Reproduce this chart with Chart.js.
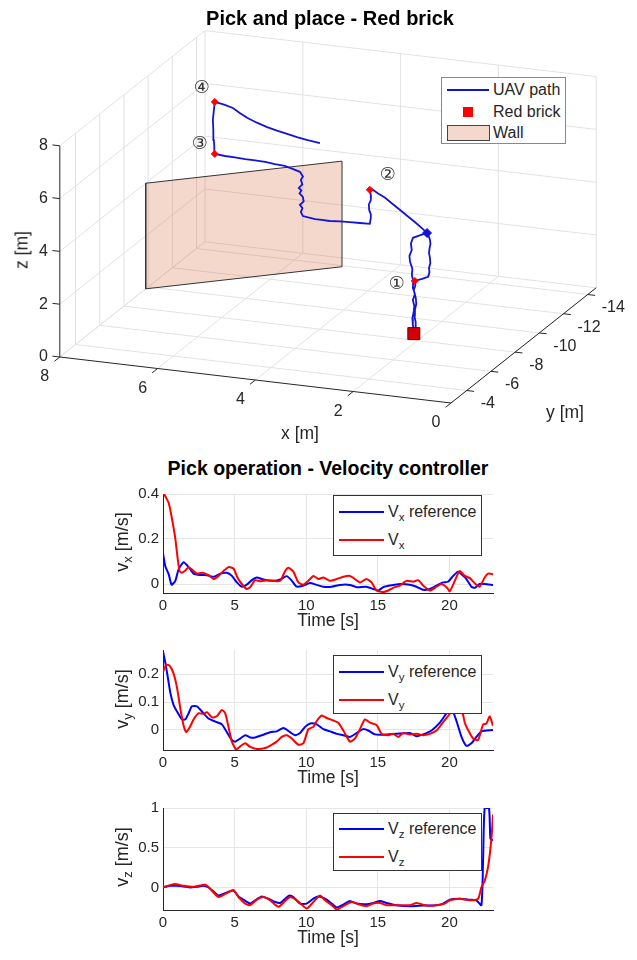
<!DOCTYPE html>
<html>
<head>
<meta charset="utf-8">
<script src="https://cdn.jsdelivr.net/npm/chart.js@4.4.1/dist/chart.umd.min.js"></script>
<style>
body { margin: 0; background: #fff; font-family: 'Liberation Sans', Arial, Helvetica, sans-serif; color: #262626; }
#fig { position: relative; width: 637px; height: 960px; overflow: hidden; }
.pane { position: absolute; left: 0; width: 637px; }
.lbl { position: absolute; white-space: nowrap; transform: translate(-50%, -50%); font-size: 17.5px; }
.rot { transform: translate(-50%, -50%) rotate(-90deg); }
.ttl { font-weight: bold; font-size: 20px; color: #000; }
.leg { position: absolute; background: #fff; border: 1px solid #333; font-size: 16px; box-sizing: border-box; }
.leg .tx { position: absolute; line-height: 20px; white-space: nowrap; }
.leg .sw { position: absolute; }
sub { font-size: 0.72em; vertical-align: -0.35em; line-height: 0; }
</style>
</head>
<body>
<div id="fig">
  <div class="pane" style="top:0;height:440px"><canvas id="scene"></canvas></div>
  <div class="pane" style="top:481px;height:151px"><canvas id="vx"></canvas></div>
  <div class="pane" style="top:637px;height:152px"><canvas id="vy"></canvas></div>
  <div class="pane" style="top:795px;height:154px"><canvas id="vz"></canvas></div>

  <div class="lbl ttl" style="left:330px;top:18px">Pick and place - Red brick</div>
  <div class="lbl" style="left:300px;top:433px">x [m]</div>
  <div class="lbl" style="left:565px;top:412px">y [m]</div>
  <div class="lbl rot" style="left:22px;top:250px">z [m]</div>

  <div class="leg" style="left:441px;top:77px;width:125px;height:67px;border-color:#888">
    <div class="sw" style="left:5px;top:11px;width:42px;border-top:2px solid rgb(20,20,215)"></div>
    <div class="tx" style="left:51px;top:2px">UAV path</div>
    <div class="sw" style="left:21px;top:29px;width:10px;height:10px;background:#f00"></div>
    <div class="tx" style="left:51px;top:24px">Red brick</div>
    <div class="sw" style="left:5px;top:47px;width:41px;height:14px;background:#f5d8cc;border:1px solid #444"></div>
    <div class="tx" style="left:51px;top:45px">Wall</div>
  </div>

  <div class="lbl ttl" style="left:328px;top:468px;font-size:19.5px">Pick operation - Velocity controller</div>

  <div class="lbl rot" style="left:122px;top:542px;font-size:18px">v<sub>x</sub> [m/s]</div>
  <div class="lbl rot" style="left:122px;top:699px;font-size:18px">v<sub>y</sub> [m/s]</div>
  <div class="lbl rot" style="left:122px;top:857px;font-size:18px">v<sub>z</sub> [m/s]</div>

  <div class="leg" style="left:333px;top:495px;width:149px;height:61px">
    <div class="sw" style="left:5px;top:15px;width:45px;border-top:2px solid #00f"></div>
    <div class="tx" style="left:54px;top:6px">V<sub>x</sub> reference</div>
    <div class="sw" style="left:5px;top:43px;width:45px;border-top:2px solid #f00"></div>
    <div class="tx" style="left:54px;top:34px">V<sub>x</sub></div>
  </div>
  <div class="leg" style="left:333px;top:655px;width:149px;height:59px">
    <div class="sw" style="left:5px;top:15px;width:45px;border-top:2px solid #00f"></div>
    <div class="tx" style="left:54px;top:6px">V<sub>y</sub> reference</div>
    <div class="sw" style="left:5px;top:43px;width:45px;border-top:2px solid #f00"></div>
    <div class="tx" style="left:54px;top:34px">V<sub>y</sub></div>
  </div>
  <div class="leg" style="left:333px;top:813px;width:149px;height:58px">
    <div class="sw" style="left:5px;top:14px;width:45px;border-top:2px solid #00f"></div>
    <div class="tx" style="left:54px;top:5px">V<sub>z</sub> reference</div>
    <div class="sw" style="left:5px;top:42px;width:45px;border-top:2px solid #f00"></div>
    <div class="tx" style="left:54px;top:33px">V<sub>z</sub></div>
  </div>
</div>

<script>
Chart.defaults.font.family = "'Liberation Sans', Arial, Helvetica, sans-serif";

// ---- 3D scene data ----
const xTicks3 = [0, 2, 4, 6, 8];
const yTicks3 = [-14, -12, -10, -8, -6, -4];
const zTicks3 = [0, 2, 4, 6, 8];
const xLim3 = [0, 8];
const yLim3 = [-14.7, -2.7];
const zLim3 = [0, 8];

// UAV path (m)
const pathX = [
  1.95, 2.10, 2.24, 2.28, 2.26, 2.31, 2.30, 2.25, 2.26, 2.23, 2.24, 2.20, 2.24, 2.21, 2.22, 2.25, 2.24, 2.22, 2.22,
  2.19, 2.18, 2.21, 2.20, 2.17, 2.18, 2.22, 2.19, 2.20,
  2.05, 1.93, 1.90, 1.91, 1.88, 1.89, 1.91, 1.90, 1.88, 1.89, 1.93,
  2.05, 2.20, 2.35, 2.50, 2.66, 2.81, 2.95, 3.08, 3.12,
  3.10, 3.10, 3.14, 3.13, 3.10, 3.10, 3.12,
  3.32, 3.53, 3.73, 3.94, 4.10, 4.24, 4.38, 4.49,
  4.53, 4.50, 4.55, 4.47, 4.49, 4.56, 4.52, 4.57, 4.50, 4.53, 4.49, 4.55,
  4.70, 4.86, 5.06, 5.26, 5.47, 5.67, 5.88, 6.08, 6.29,
  6.30, 6.31, 6.32, 6.33, 6.31, 6.29,
  6.10, 5.92, 5.78, 5.63, 5.43, 5.22, 5.02, 4.81, 4.61, 4.41, 4.14
];
const pathY = [
  -8.60, -8.60, -8.61, -8.60, -8.59, -8.60, -8.61, -8.60, -8.60, -8.59, -8.60, -8.61, -8.60, -8.60, -8.59, -8.60, -8.60, -8.61, -8.60,
  -8.60, -8.59, -8.60, -8.61, -8.60, -8.60, -8.59, -8.60, -8.60,
  -8.60, -8.61, -8.60, -8.60, -8.59, -8.60, -8.60, -8.61, -8.60, -8.60, -8.60,
  -8.60, -8.60, -8.59, -8.60, -8.60, -8.61, -8.60, -8.60, -8.60,
  -8.60, -8.61, -8.60, -8.59, -8.60, -8.60, -8.60,
  -8.60, -8.60, -8.61, -8.60, -8.59, -8.60, -8.60, -8.60,
  -8.60, -8.61, -8.60, -8.59, -8.60, -8.61, -8.60, -8.59, -8.60, -8.60, -8.61, -8.60,
  -8.60, -8.60, -8.59, -8.60, -8.61, -8.60, -8.60, -8.59, -8.60,
  -8.60, -8.60, -8.60, -8.60, -8.60, -8.60,
  -8.60, -8.60, -8.60, -8.60, -8.60, -8.60, -8.60, -8.60, -8.60, -8.60, -8.60
];
const pathZ = [
  3.87, 3.75, 3.62, 3.40, 3.16, 2.92, 2.70, 2.45, 2.21, 1.97, 1.73, 1.50, 1.27, 1.05, 0.82, 0.58, 0.32, 0.10, 0.00,
  0.22, 0.45, 0.68, 0.90, 1.13, 1.36, 1.65, 1.82, 2.00,
  2.11, 2.21, 2.40, 2.55, 2.75, 2.94, 3.12, 3.31, 3.47, 3.62, 3.84,
  4.02, 4.23, 4.43, 4.62, 4.82, 5.01, 5.15, 5.29, 5.25,
  5.05, 4.87, 4.68, 4.48, 4.33, 4.19, 3.96,
  3.95, 3.94, 3.92, 3.89, 3.90, 3.90, 3.93, 3.96,
  4.10, 4.25, 4.37, 4.52, 4.68, 4.80, 4.92, 5.01, 5.15, 5.32, 5.45, 5.62,
  5.70, 5.78, 5.80, 5.84, 5.85, 5.86, 5.88, 5.89, 5.92,
  6.20, 6.45, 6.80, 7.20, 7.55, 7.89,
  7.83, 7.74, 7.58, 7.43, 7.29, 7.17, 7.08, 7.00, 6.92, 6.86, 6.80
];

// waypoints 1-4
const wpLabels = ['\u2460', '\u2461', '\u2462', '\u2463'];
const wpX = [2.20, 3.12, 6.29, 6.29];
const wpY = [-8.6, -8.6, -8.6, -8.6];
const wpZ = [2.00, 5.25, 5.92, 7.89];

const startPos = [1.95, -8.6, 3.87];
const brickPos = [2.22, -8.6, 0];

// wall: two ground corners and height range
const wallX = [8, 5.0];
const wallY = [-9.8, -13.9];
const wallZ = [0, 4];

// ---- velocity data ----
const timeTicks = [0, 5, 10, 15, 20];

const tVxRef = [0, 0.16, 0.4, 0.6, 0.86, 1.09, 1.44, 1.79, 2.14, 2.6, 3.07, 3.53, 4.0, 4.46, 4.81, 5.16, 5.5, 5.85, 6.2, 6.55,
  6.9, 7.25, 7.71, 8.18, 8.64, 9.0, 9.34, 9.8, 10.27, 10.73, 11.2, 11.78, 12.36, 13.05, 13.52, 14.2, 14.68, 15.03, 15.38, 15.84,
  16.54, 17.24, 17.7, 18.16, 18.63, 19.1, 19.56, 19.9, 20.26, 20.6, 20.84, 21.18, 21.53, 21.77, 22.1, 22.46, 23.04];
const vxRef = [0.137, 0.079, 0.043, -0.003, 0.014, 0.065, 0.097, 0.075, 0.046, 0.040, 0.039, 0.032, 0.046, 0.050, 0.036, 0.007, -0.012, -0.003, 0.017, 0.029,
  0.022, 0.017, 0.014, 0.020, 0.035, 0.014, -0.012, -0.007, 0.004, -0.004, -0.012, -0.012, -0.004, -0.004, -0.014, -0.012, -0.022, -0.029, -0.014, -0.007,
  0, -0.003, -0.012, -0.026, -0.022, -0.007, 0.007, 0.010, 0.036, 0.055, 0.043, 0.022, -0.012, -0.017, 0, 0, -0.004];
const tVx = [0, 0.16, 0.4, 0.63, 0.86, 1.02, 1.16, 1.32, 1.56, 1.79, 2.0, 2.37, 2.72, 3.18, 3.53, 3.88, 4.23, 4.58, 4.92, 5.2,
  5.5, 5.85, 6.09, 6.43, 6.78, 7.25, 7.71, 8.18, 8.53, 8.76, 9.1, 9.45, 9.8, 10.15, 10.5, 10.85, 11.2, 11.66, 12.13, 12.59,
  13.05, 13.4, 13.75, 14.2, 14.56, 14.91, 15.38, 15.73, 16.07, 16.54, 17.0, 17.47, 17.82, 18.16, 18.63, 19.1, 19.44, 19.8, 20.02, 20.37,
  20.72, 21.07, 21.42, 21.77, 22.1, 22.46, 22.7, 23.04];
const vx = [0.41, 0.39, 0.36, 0.289, 0.202, 0.115, 0.058, 0.05, 0.06, 0.075, 0.065, 0.046, 0.05, 0.039, 0.022, 0.036, 0.058, 0.075, 0.069, 0.029,
  0, -0.022, -0.014, 0.017, 0.012, 0.017, 0.014, 0.014, 0.058, 0.072, 0.055, 0.007, -0.003, 0.014, 0.036, 0.022, 0.029, 0.014, 0.022, 0.032,
  0.036, 0.022, 0.007, 0.022, 0.007, -0.029, -0.036, -0.029, -0.017, -0.007, 0.014, 0.01, 0.017, -0.007, -0.029, -0.012, 0, -0.014, -0.032, 0.014,
  0.058, 0.036, 0.026, 0.003, -0.012, 0.029, 0.046, 0.043];

const tVyRef = [0, 0.16, 0.33, 0.51, 0.74, 0.98, 1.32, 1.56, 1.79, 2.02, 2.37, 2.72, 3.18, 3.65, 4.11, 4.46, 4.81, 5.04, 5.39, 5.74,
  6.09, 6.43, 6.9, 7.48, 7.94, 8.41, 8.87, 9.22, 9.57, 9.92, 10.27, 10.73, 11.2, 11.66, 12.13, 12.59, 13.05, 13.52, 13.98, 14.33,
  14.8, 15.38, 16.3, 17.24, 17.7, 18.16, 18.75, 19.33, 19.8, 20.14, 20.49, 20.84, 21.18, 21.53, 21.88, 22.23, 23.04];
const vyRef = [0.282, 0.242, 0.191, 0.134, 0.089, 0.066, 0.038, 0.038, 0.060, 0.085, 0.085, 0.066, 0.041, 0.030, 0.020, -0.008, -0.036, -0.042, -0.031, -0.019,
  -0.027, -0.027, -0.019, -0.008, -0.005, 0.007, -0.008, -0.019, -0.011, 0.011, 0.023, 0.020, 0.003, -0.005, -0.014, -0.019, -0.025, -0.011, 0.003, -0.002,
  -0.016, -0.017, -0.014, -0.011, -0.023, -0.016, -0.002, 0.026, 0.060, 0.077, 0.032, -0.025, -0.057, -0.048, -0.025, -0.005, 0.0];
const tVy = [0, 0.23, 0.46, 0.74, 0.98, 1.21, 1.44, 1.63, 1.86, 2.14, 2.49, 2.83, 3.07, 3.41, 3.76, 4.11, 4.34, 4.58, 4.81, 5.11,
  5.39, 5.74, 6.09, 6.55, 7.13, 7.6, 7.94, 8.29, 8.64, 8.99, 9.45, 9.8, 10.15, 10.5, 10.73, 11.08, 11.43, 11.89, 12.24, 12.59,
  13.05, 13.4, 13.75, 14.1, 14.45, 14.91, 15.26, 15.73, 16.07, 16.42, 16.77, 17.24, 17.7, 18.16, 18.63, 19.1, 19.44, 19.8, 20.14, 20.49,
  20.84, 21.07, 21.3, 21.65, 22.0, 22.35, 22.58, 22.81, 23.04];
const vy = [0.208, 0.234, 0.231, 0.202, 0.151, 0.077, 0.015, -0.008, 0.009, 0.038, 0.060, 0.057, 0.064, 0.045, 0.049, 0.072, 0.060, 0.009, -0.042, -0.070,
  -0.059, -0.048, -0.061, -0.068, -0.065, -0.053, -0.042, -0.025, -0.019, -0.031, -0.053, -0.048, 0.003, 0.011, 0.032, 0.052, 0.043, 0.034, 0.026, -0.002,
  -0.042, -0.031, 0.003, 0.038, 0.026, 0.018, -0.014, -0.019, -0.014, -0.025, -0.011, -0.016, -0.014, -0.019, -0.014, -0.002, 0.020, 0.043, 0.066, 0.089,
  0.077, 0.026, 0.0, -0.031, -0.036, 0.020, 0.023, 0.049, 0.015];

const tVzRef = [0, 0.51, 0.98, 1.44, 1.9, 2.37, 2.83, 3.18, 3.41, 3.88, 4.34, 4.92, 5.27, 5.62, 6.09, 6.43, 6.9, 7.36, 7.83, 8.18,
  8.53, 8.83, 9.1, 9.57, 10.03, 10.5, 10.85, 11.31, 11.78, 12.13, 12.59, 13.05, 13.52, 14.2, 14.68, 15.15, 15.61, 16.3, 17.24, 18.16,
  19.1, 19.56, 20.02, 20.72, 21.42, 21.88, 22.23, 22.35, 22.46, 22.76, 22.86, 23.04];
const vzRef = [0, 0.02, 0.02, 0.012, 0, 0.008, 0.02, 0, -0.033, -0.102, -0.073, -0.041, -0.114, -0.155, -0.204, -0.163, -0.114, -0.143, -0.184, -0.196,
  -0.143, -0.102, -0.122, -0.204, -0.204, -0.143, -0.114, -0.143, -0.204, -0.253, -0.216, -0.171, -0.204, -0.212, -0.196, -0.171, -0.196, -0.224, -0.237, -0.229,
  -0.224, -0.204, -0.155, -0.143, -0.155, -0.163, -0.224, 0.367, 1.0, 1.0, 0.612, 0.592];
const tVz = [0, 0.74, 1.44, 2.14, 2.95, 3.3, 3.88, 4.34, 4.92, 5.27, 5.74, 6.09, 6.55, 7.02, 7.48, 8.06, 8.53, 8.87, 9.34, 10.03,
  10.5, 10.96, 11.31, 11.78, 12.13, 12.71, 13.17, 13.64, 14.2, 14.68, 15.15, 15.61, 16.3, 17.24, 17.7, 18.4, 19.1, 19.67, 20.02, 20.72,
  21.42, 22.0, 22.23, 22.46, 22.7, 22.93, 23.04];
const vz = [0, 0.041, 0.020, 0.008, 0.033, -0.020, -0.122, -0.082, -0.033, -0.122, -0.204, -0.224, -0.155, -0.122, -0.163, -0.245, -0.171, -0.122, -0.163, -0.265,
  -0.184, -0.102, -0.163, -0.224, -0.28, -0.224, -0.184, -0.212, -0.237, -0.204, -0.196, -0.224, -0.224, -0.224, -0.196, -0.229, -0.224, -0.204, -0.163, -0.143,
  -0.163, -0.143, 0, 0.082, 0.265, 0.612, 0.918];

// ---- 3D view (orthographic, az/el of the figure) ----
const view = { ox: 451, oy: 403, ex: [-48.9, -5.75], ey: [-12.1, 9.6], ez: [0, -26.4] };
function proj(x, y, z) {
  const b = y - yLim3[1];
  return {
    x: view.ox + x * view.ex[0] + b * view.ey[0] + z * view.ez[0],
    y: view.oy + x * view.ex[1] + b * view.ey[1] + z * view.ez[1]
  };
}
function segData(segs) {
  const out = [];
  segs.forEach((s, i) => {
    if (i) out.push({ x: null, y: null });
    s.forEach(p => out.push(proj(p[0], p[1], p[2])));
  });
  return out;
}

const [x0, x1] = xLim3, [y0, y1] = yLim3, [z0, z1] = zLim3;
const gridSegs = [];
xTicks3.forEach(v => { gridSegs.push([[v, y0, z0], [v, y1, z0]]); gridSegs.push([[v, y0, z0], [v, y0, z1]]); });
yTicks3.forEach(v => { gridSegs.push([[x0, v, z0], [x1, v, z0]]); gridSegs.push([[x1, v, z0], [x1, v, z1]]); });
zTicks3.forEach(v => { gridSegs.push([[x0, y0, v], [x1, y0, v]]); gridSegs.push([[x1, y0, v], [x1, y1, v]]); });

const axisSegs = [
  [[x0, y1, z0], [x1, y1, z0]],
  [[x0, y1, z0], [x0, y0, z0]],
  [[x1, y1, z0], [x1, y1, z1]]
];
xTicks3.forEach(v => axisSegs.push([[v, y1, z0], [v, y1 + 0.45, z0]]));
yTicks3.forEach(v => axisSegs.push([[x0, v, z0], [x0 - 0.15, v, z0]]));
zTicks3.forEach(v => axisSegs.push([[x1, y1, v], [x1 + 0.15, y1, v]]));

const wallPoly = [
  [wallX[0], wallY[0], wallZ[0]], [wallX[1], wallY[1], wallZ[0]],
  [wallX[1], wallY[1], wallZ[1]], [wallX[0], wallY[0], wallZ[1]],
  [wallX[0], wallY[0], wallZ[0]]
];

const pathPts = pathX.map((x, i) => proj(x, pathY[i], pathZ[i]));
const wpPts = wpX.map((x, i) => proj(x, wpY[i], wpZ[i]));

const numberOffsets = [[-18, 3], [18, -14], [-15, -10], [-13, -14]];

const labels3d = {
  id: 'labels3d',
  afterDatasetsDraw(chart) {
    const ctx = chart.ctx, sx = chart.scales.x, sy = chart.scales.y;
    const px = p => [sx.getPixelForValue(p.x), sy.getPixelForValue(p.y)];
    ctx.save();
    ctx.fillStyle = '#262626';
    ctx.font = "16px 'Liberation Sans', Arial, sans-serif";
    ctx.textBaseline = 'middle';
    ctx.textAlign = 'center';
    xTicks3.forEach(v => { const [a, b] = px(proj(v, y1, z0)); ctx.fillText(String(v), a - 15, b + 20); });
    ctx.textAlign = 'left';
    yTicks3.forEach(v => { const [a, b] = px(proj(x0, v, z0)); ctx.fillText(String(v), a + 14, b + 13.5); });
    ctx.textAlign = 'right';
    zTicks3.forEach(v => { const [a, b] = px(proj(x1, y1, v)); ctx.fillText(String(v), a - 12, b); });
    ctx.font = "18px 'DejaVu Sans', sans-serif";
    ctx.textAlign = 'center';
    ctx.fillStyle = '#333';
    wpLabels.forEach((t, i) => {
      const [a, b] = px(wpPts[i]);
      ctx.fillText(t, a + numberOffsets[i][0], b + numberOffsets[i][1]);
    });
    ctx.restore();
  }
};

new Chart(document.getElementById('scene'), {
  type: 'scatter',
  data: {
    datasets: [
      { data: segData(gridSegs), showLine: true, borderColor: '#e2e2e2', borderWidth: 1, pointRadius: 0, spanGaps: false, order: 6 },
      { data: segData(axisSegs), showLine: true, borderColor: '#262626', borderWidth: 1, pointRadius: 0, spanGaps: false, order: 5 },
      { data: segData([wallPoly]), showLine: true, fill: 'shape', backgroundColor: 'rgba(217,100,50,0.25)', borderColor: '#333', borderWidth: 1, pointRadius: 0, order: 4 },
      { data: pathPts, showLine: true, borderColor: 'rgb(20,20,215)', borderWidth: 1.8, pointRadius: 0, order: 3 },
      { data: [proj(...brickPos)], pointStyle: 'rect', pointRadius: 8.5, backgroundColor: '#d40000', borderColor: '#700000', borderWidth: 1, order: 2 },
      { data: wpPts, pointStyle: 'rectRot', pointRadius: 3.5, backgroundColor: '#ff0000', borderColor: '#ff0000', borderWidth: 1, order: 1 },
      { data: [proj(...startPos)], pointStyle: 'rectRot', pointRadius: 4.5, backgroundColor: '#1414d7', borderColor: '#1414d7', borderWidth: 1, order: 1 }
    ]
  },
  options: {
    responsive: true, maintainAspectRatio: false, animation: false, events: [],
    layout: { padding: 0, autoPadding: false },
    plugins: { legend: { display: false }, tooltip: { enabled: false } },
    scales: {
      x: { type: 'linear', min: 0, max: 637, display: false },
      y: { type: 'linear', min: 0, max: 440, reverse: true, display: false }
    }
  },
  plugins: [labels3d]
});

// ---- velocity subplots ----
function series(t, v) { return t.map((x, i) => ({ x: x, y: v[i] })); }

function velocityPlot(id, yMin, yMax, yTicks, ref, meas) {
  new Chart(document.getElementById(id), {
    type: 'line',
    data: {
      datasets: [
        { data: meas, borderColor: '#ff0000', borderWidth: 2, pointRadius: 0, tension: 0.2, order: 1 },
        { data: ref, borderColor: '#0000ff', borderWidth: 2, pointRadius: 0, tension: 0.2, order: 2 }
      ]
    },
    options: {
      responsive: true, maintainAspectRatio: false, animation: false, events: [],
      layout: { padding: { top: 10, left: 123, right: 144, bottom: 0 } },
      plugins: { legend: { display: false }, tooltip: { enabled: false } },
      scales: {
        x: {
          type: 'linear', min: 0, max: 23.04,
          afterBuildTicks: s => { s.ticks = timeTicks.map(v => ({ value: v })); },
          afterFit: s => { s.height = 39; },
          ticks: { color: '#262626', font: { size: 15 }, padding: 4, callback: v => String(v) },
          grid: { color: '#e6e6e6', drawTicks: false },
          border: { color: '#262626' },
          title: { display: true, text: 'Time [s]', color: '#262626', font: { size: 17.5 }, padding: 0 }
        },
        y: {
          type: 'linear', min: yMin, max: yMax,
          afterBuildTicks: s => { s.ticks = yTicks.map(v => ({ value: v })); },
          afterFit: s => { s.width = 40; },
          ticks: { color: '#262626', font: { size: 15 }, padding: 4, callback: v => String(v) },
          grid: { color: '#e6e6e6', drawTicks: false },
          border: { color: '#262626' }
        }
      }
    }
  });
}

velocityPlot('vx', -0.04, 0.4, [0, 0.2, 0.4], series(tVxRef, vxRef), series(tVx, vx));
velocityPlot('vy', -0.072, 0.287, [0, 0.1, 0.2], series(tVyRef, vyRef), series(tVy, vy));
velocityPlot('vz', -0.285, 1, [0, 0.5, 1], series(tVzRef, vzRef), series(tVz, vz));
</script>
</body>
</html>
